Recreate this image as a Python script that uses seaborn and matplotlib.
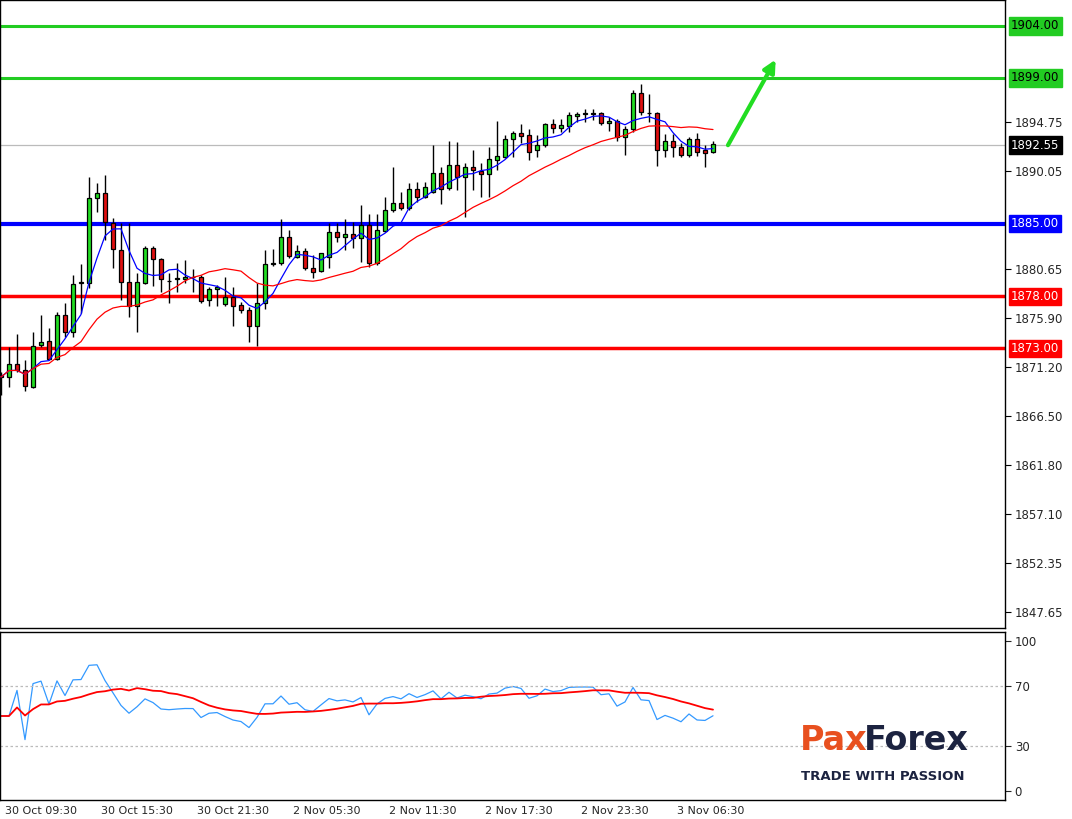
import numpy as np
import pandas as pd
import matplotlib.pyplot as plt
import seaborn as sns

# 30-minute candles (open, high, low, close)
opens = [1870.42, 1870.23, 1871.48, 1870.91, 1869.27, 1873.31, 1873.70, 1871.96, 1876.20, 1874.56,
         1879.28, 1879.28, 1887.45, 1887.93, 1885.05, 1882.45, 1879.37, 1877.06, 1879.28, 1882.64,
         1881.58, 1879.47, 1879.66, 1879.66, 1879.85, 1879.85, 1877.64, 1878.70, 1877.26, 1877.93,
         1877.16, 1876.68, 1875.14, 1877.35, 1881.10, 1881.20, 1883.70, 1881.78, 1882.35, 1880.72,
         1880.43, 1881.78, 1884.18, 1883.70, 1883.99, 1883.60, 1884.86, 1881.20, 1884.28, 1886.30,
         1886.97, 1886.49, 1888.32, 1887.55, 1888.03, 1889.86, 1888.41, 1890.63, 1889.47, 1890.43,
         1890.05, 1889.76, 1891.11, 1891.40, 1893.13, 1893.71, 1893.52, 1892.07, 1892.55, 1894.58,
         1894.19, 1894.38, 1895.35, 1895.54, 1895.56, 1895.63, 1894.67, 1894.86, 1893.33, 1894.10,
         1897.56, 1895.63, 1895.63, 1892.07, 1892.94, 1892.36, 1891.59, 1893.13, 1892.07, 1891.88]
highs = [1870.71, 1873.12, 1874.37, 1871.87, 1874.56, 1876.20, 1874.95, 1876.49, 1877.35, 1880.05,
         1881.10, 1889.47, 1888.90, 1889.67, 1885.53, 1885.05, 1885.05, 1880.24, 1882.83, 1882.80,
         1881.70, 1880.24, 1881.20, 1881.49, 1880.62, 1880.05, 1878.89, 1879.08, 1879.85, 1878.89,
         1877.45, 1876.97, 1879.28, 1882.45, 1882.55, 1885.43, 1884.37, 1882.93, 1882.64, 1881.97,
         1882.20, 1885.05, 1885.05, 1885.43, 1885.14, 1886.78, 1885.91, 1885.91, 1887.55, 1890.43,
         1888.03, 1888.90, 1889.00, 1889.00, 1892.55, 1890.43, 1892.94, 1892.84, 1890.82, 1892.07,
         1890.82, 1892.36, 1894.86, 1893.52, 1893.90, 1894.58, 1894.10, 1893.52, 1894.67, 1895.05,
         1895.05, 1895.73, 1895.73, 1896.01, 1896.01, 1895.73, 1895.25, 1895.05, 1894.38, 1897.85,
         1898.42, 1897.46, 1895.70, 1893.61, 1893.61, 1892.74, 1893.33, 1893.71, 1892.55, 1892.94]
lows = [1868.50, 1869.27, 1870.71, 1868.89, 1869.17, 1873.12, 1871.87, 1871.87, 1874.08, 1874.08,
        1876.39, 1878.79, 1886.11, 1883.41, 1880.72, 1877.64, 1876.00, 1874.56, 1879.20, 1878.99,
        1878.41, 1877.35, 1878.41, 1879.28, 1878.41, 1877.35, 1877.06, 1877.06, 1877.06, 1875.14,
        1876.39, 1873.60, 1873.21, 1876.78, 1880.91, 1881.00, 1881.68, 1881.70, 1880.53, 1879.76,
        1880.33, 1880.72, 1883.22, 1882.45, 1882.64, 1881.30, 1880.81, 1881.00, 1884.18, 1886.11,
        1886.30, 1886.30, 1887.07, 1887.45, 1887.93, 1886.88, 1888.22, 1888.22, 1885.63, 1888.22,
        1887.55, 1887.55, 1890.15, 1891.30, 1891.40, 1892.74, 1891.11, 1891.40, 1892.36, 1893.71,
        1893.80, 1893.80, 1894.76, 1894.76, 1894.96, 1894.48, 1893.90, 1892.94, 1891.60, 1893.80,
        1895.44, 1894.76, 1890.53, 1891.40, 1891.40, 1891.40, 1891.40, 1891.49, 1890.43, 1891.78]
closes = [1870.23, 1871.48, 1870.91, 1869.37, 1873.21, 1873.60, 1871.96, 1876.20, 1874.56, 1879.18,
          1879.30, 1887.45, 1887.93, 1885.14, 1882.55, 1879.37, 1877.06, 1879.37, 1882.64, 1881.58,
          1879.66, 1879.45, 1879.68, 1879.85, 1879.83, 1877.54, 1878.70, 1878.89, 1877.93, 1877.06,
          1876.68, 1875.14, 1877.35, 1881.10, 1881.12, 1883.70, 1881.87, 1882.35, 1880.72, 1880.33,
          1882.16, 1884.18, 1883.70, 1883.99, 1883.60, 1884.86, 1881.20, 1884.37, 1886.30, 1886.97,
          1886.49, 1888.32, 1887.55, 1888.51, 1889.86, 1888.32, 1890.63, 1889.47, 1890.43, 1890.15,
          1889.76, 1891.20, 1891.49, 1893.13, 1893.71, 1893.42, 1891.88, 1892.55, 1894.58, 1894.19,
          1894.48, 1895.44, 1895.54, 1895.56, 1895.54, 1894.67, 1894.86, 1893.33, 1894.10, 1897.56,
          1895.73, 1895.61, 1892.07, 1892.94, 1892.36, 1891.59, 1893.13, 1891.88, 1891.78, 1892.65]

time_labels = ["30 Oct 09:30", "30 Oct 15:30", "30 Oct 21:30", "2 Nov 05:30",
               "2 Nov 11:30", "2 Nov 17:30", "2 Nov 23:30", "3 Nov 06:30"]
price_ticks = [1847.65, 1852.35, 1857.10, 1861.80, 1866.50, 1871.20, 1875.90, 1880.65,
               1890.05, 1894.75]
green_levels = [1904.00, 1899.00]
blue_levels = [1885.00]
red_levels = [1878.00, 1873.00]
last_price = 1892.55
rsi_ticks = [0, 30, 70, 100]

df = pd.DataFrame({"open": opens, "high": highs, "low": lows, "close": closes})
df["i"] = np.arange(len(df))
df["ma_fast"] = df["close"].rolling(5, min_periods=1).mean()
df["ma_slow"] = df["close"].rolling(20, min_periods=1).mean()
delta = df["close"].diff().fillna(0)
up = delta.clip(lower=0).ewm(alpha=1 / 14, adjust=True).mean()
dn = (-delta.clip(upper=0)).ewm(alpha=1 / 14, adjust=True).mean()
df["rsi"] = 100 - 100 / (1 + up / dn.replace(0, np.nan))
df["rsi"] = df["rsi"].fillna(50)
df["rsi_ma"] = df["rsi"].rolling(14, min_periods=1).mean()

sns.set_style("white")
plt.rcParams["font.family"] = ["DejaVu Sans"]

fig = plt.figure(figsize=(10.72, 8.19), dpi=100)
ax = fig.add_axes([0.0, 1 - 628 / 819, 1005 / 1072, 628 / 819])
ax2 = fig.add_axes([0.0, 1 - 800 / 819, 1005 / 1072, 168 / 819])

# candles
up_mask = df["close"] >= df["open"]
ax.vlines(df["i"], df["low"], df["high"], color="black", lw=1, zorder=2)
body = (df["close"] - df["open"]).abs().clip(lower=0.06)
bottom = df[["open", "close"]].min(axis=1)
ax.bar(df["i"], body, bottom=bottom, width=0.62,
       color=np.where(up_mask, "#22dd22", "#e01010"), edgecolor="black", lw=0.9, zorder=3)

sns.lineplot(data=df, x="i", y="ma_fast", ax=ax, color="#0000ff", lw=0.9, zorder=4)
sns.lineplot(data=df, x="i", y="ma_slow", ax=ax, color="#ff0000", lw=0.9, zorder=4)

for lv in green_levels:
    ax.axhline(lv, color="#22cc22", lw=2.2, zorder=1)
for lv in blue_levels:
    ax.axhline(lv, color="#0000ff", lw=3, zorder=1)
for lv in red_levels:
    ax.axhline(lv, color="#ff0000", lw=2.5, zorder=1)
ax.axhline(last_price, color="#bbbbbb", lw=0.9, zorder=1)

ax.annotate("", xy=(97, 1901.0), xytext=(90.7, 1892.3),
            arrowprops=dict(arrowstyle="-|>", color="#22dd22", lw=3, mutation_scale=18))

ax.set_xlim(-0.125, 125.5)
ax.set_ylim(1846.09, 1906.5)
ax.yaxis.tick_right()
ax.set_yticks(price_ticks)
ax.set_yticklabels([f"{t:.2f}" for t in price_ticks], fontsize=8.5)
ax.tick_params(axis="y", length=4, pad=3, color="black")
ax.set_xticks([])
ax.set_xlabel("")
ax.set_ylabel("")

tr = ax.get_yaxis_transform()
tags = [(lv, "#22cc22", "black") for lv in green_levels] + \
       [(lv, "#0000ff", "white") for lv in blue_levels] + \
       [(lv, "#ff0000", "white") for lv in red_levels] + [(last_price, "black", "white")]
for lv, bg, fg in tags:
    ax.text(1.006, lv, f"{lv:.2f}", transform=tr, fontsize=8.5, color=fg, va="center",
            ha="left", clip_on=False, zorder=6,
            bbox=dict(boxstyle="square,pad=0.18", fc=bg, ec=bg))

# RSI panel
sns.lineplot(data=df, x="i", y="rsi", ax=ax2, color="#3399ff", lw=0.9)
sns.lineplot(data=df, x="i", y="rsi_ma", ax=ax2, color="#ff0000", lw=1.3)
for lv in [30, 70]:
    ax2.axhline(lv, color="#bbbbbb", lw=0.9, ls=(0, (2, 2)))
ax2.set_xlim(-0.125, 125.5)
ax2.set_ylim(-6, 106)
ax2.yaxis.tick_right()
ax2.set_yticks(rsi_ticks)
ax2.set_yticklabels([str(t) for t in rsi_ticks], fontsize=8.5)
ax2.tick_params(axis="y", length=4, pad=3)
ax2.set_xticks([12 * k + 0.5 for k in range(len(time_labels))])
ax2.set_xticklabels(time_labels, fontsize=8, ha="left")
ax2.tick_params(axis="x", length=3, pad=1)
ax2.set_xlabel("")
ax2.set_ylabel("")

for a in (ax, ax2):
    for s in a.spines.values():
        s.set_color("black")
        s.set_linewidth(1)

# logo
fig.text(800 / 1072, 1 - 740 / 819, "Pax", fontsize=24, color="#e8501f", fontweight="bold",
         va="center", ha="left")
fig.text(864 / 1072, 1 - 740 / 819, "Forex", fontsize=24, color="#1c2340", fontweight="bold",
         va="center", ha="left")
fig.text(801 / 1072, 1 - 776 / 819, "TRADE WITH PASSION", fontsize=9.5, color="#1c2340",
         fontweight="bold", va="center", ha="left")

fig.savefig("out.png", dpi=100, facecolor="white")
